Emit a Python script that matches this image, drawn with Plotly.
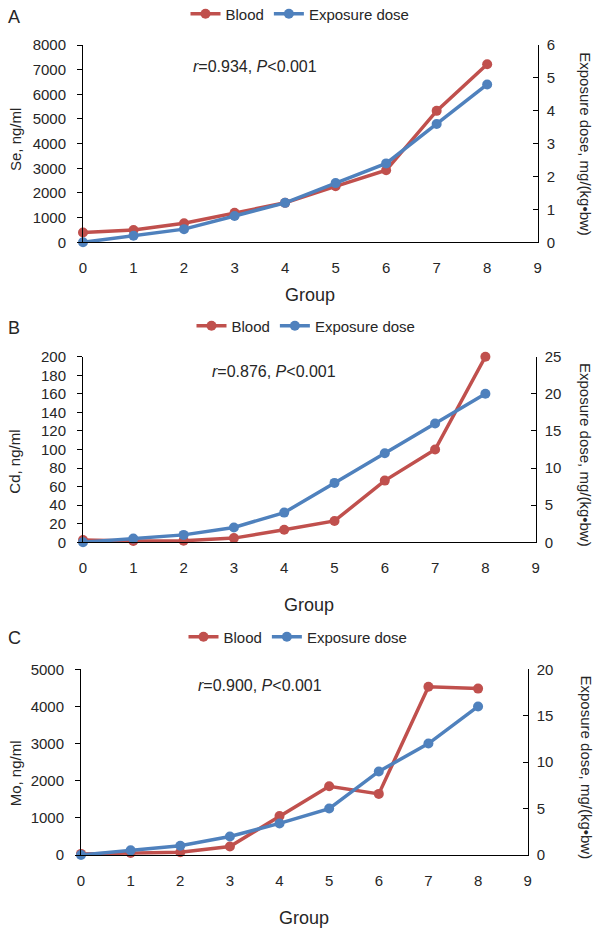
import plotly.graph_objects as go

groups = [0, 1, 2, 3, 4, 5, 6, 7, 8]

se_blood = [400, 500, 770, 1200, 1600, 2270, 2920, 5330, 7220]
se_dose = [0, 0.2, 0.4, 0.8, 1.2, 1.8, 2.4, 3.6, 4.8]

cd_blood = [2.5, 1.4, 1.8, 4.5, 13.5, 23, 66.5, 100, 200]
cd_dose = [0, 0.5, 1, 2, 4, 8, 12, 16, 20]

mo_blood = [30, 55, 75, 230, 1050, 1850, 1645, 4530, 4480]
mo_dose = [0, 0.5, 1, 2, 3.4, 5, 9, 12, 16]

panel_letters = ["A", "B", "C"]
left_titles = ["Se, ng/ml", "Cd, ng/ml", "Mo, ng/ml"]
right_title = "Exposure dose, mg/(kg\u2022bw)"
stats = ["<i>r</i>=0.934, <i>P</i>&lt;0.001",
         "<i>r</i>=0.876, <i>P</i>&lt;0.001",
         "<i>r</i>=0.900, <i>P</i>&lt;0.001"]
left_ranges = [[0, 8000], [0, 200], [0, 5000]]
left_dticks = [1000, 20, 1000]
right_ranges = [[0, 6], [0, 25], [0, 20]]
right_dticks = [1, 5, 5]
series_names = ["Blood", "Exposure dose"]

RED = "#C0504D"
BLUE = "#4F81BD"
TXT = "#262626"
FONT = "Liberation Sans, Arial, sans-serif"

W, H = 600, 934
def px(x):
    return x / W
def py(y):
    return 1 - y / H

# panel geometry in pixels: (x0, x1, ytop, ybottom)
geo = [(83, 537.7, 45, 242.3), (83, 535.7, 356.7, 542.3), (81, 527.7, 669.3, 855)]
legend_pos = [(300, 14), (306, 326), (298, 637)]
letter_y = [17, 328, 638]
stat_pos = [(255, 66.7), (274, 371.7), (260, 685)]
group_y = [295, 605, 918]
left_title_y = [140, 461.7, 773.3]
right_title_y = [144.2, 455, 767.5]

blood = [se_blood, cd_blood, mo_blood]
dose = [se_dose, cd_dose, mo_dose]

fig = go.Figure()
annotations = []
layout = dict(width=W, height=H, margin=dict(l=0, r=0, t=0, b=0, autoexpand=False),
              paper_bgcolor="white", plot_bgcolor="white",
              font=dict(family=FONT, color=TXT, size=15))

for i in range(3):
    xn = "x" if i == 0 else f"x{i+1}"
    yl = f"y{2*i+1}" if i > 0 else "y"
    yr = f"y{2*i+2}"
    lg = "legend" if i == 0 else f"legend{i+1}"
    fig.add_trace(go.Scatter(x=groups, y=blood[i], name=series_names[0], mode="lines+markers",
                             line=dict(color=RED, width=3.5), marker=dict(color=RED, size=10),
                             xaxis=xn, yaxis=yl, legend=lg, cliponaxis=False))
    fig.add_trace(go.Scatter(x=groups, y=dose[i], name=series_names[1], mode="lines+markers",
                             line=dict(color=BLUE, width=3.5), marker=dict(color=BLUE, size=10),
                             xaxis=xn, yaxis=yr, legend=lg, cliponaxis=False))
    x0, x1, yt, yb = geo[i]
    xkey = "xaxis" if i == 0 else f"xaxis{i+1}"
    ylkey = "yaxis" if i == 0 else f"yaxis{2*i+1}"
    yrkey = f"yaxis{2*i+2}"
    layout[xkey] = dict(domain=[px(x0), px(x1)], anchor=yl, range=[0, 9], dtick=1,
                        showgrid=False, zeroline=False, showline=True, linecolor="#000",
                        linewidth=1, ticks="outside", ticklen=12, tickcolor="rgba(0,0,0,0)",
                        tickfont=dict(size=15, color=TXT), automargin=False)
    layout[ylkey] = dict(domain=[py(yb), py(yt)], anchor=xn, range=left_ranges[i],
                         dtick=left_dticks[i], showgrid=False, zeroline=False, showline=True,
                         linecolor="#000", linewidth=1, ticks="outside", ticklen=5,
                         tickcolor="#000", ticklabelstandoff=8,
                         tickfont=dict(size=15, color=TXT), automargin=False)
    layout[yrkey] = dict(overlaying=yl, side="right", anchor=xn, range=right_ranges[i],
                         dtick=right_dticks[i], showgrid=False, zeroline=False, showline=True,
                         linecolor="#000", linewidth=1, ticks="inside", ticklen=5,
                         tickcolor="#000", ticklabelstandoff=5,
                         tickfont=dict(size=15, color=TXT), automargin=False)
    lx, ly = legend_pos[i]
    layout[lg] = dict(orientation="h", x=px(lx), y=py(ly), xanchor="center", yanchor="middle",
                      font=dict(size=15, color=TXT), bgcolor="rgba(0,0,0,0)", itemwidth=30)
    annotations += [
        dict(text=panel_letters[i], x=px(14), y=py(letter_y[i]), xref="paper", yref="paper",
             showarrow=False, font=dict(size=18, color=TXT), xanchor="center", yanchor="middle"),
        dict(text=stats[i], x=px(stat_pos[i][0]), y=py(stat_pos[i][1]), xref="paper", yref="paper",
             showarrow=False, font=dict(size=16, color=TXT), xanchor="center", yanchor="middle"),
        dict(text="Group", x=px((x0 + x1) / 2), y=py(group_y[i]), xref="paper", yref="paper",
             showarrow=False, font=dict(size=18, color=TXT), xanchor="center", yanchor="middle"),
        dict(text=left_titles[i], x=px(15), y=py(left_title_y[i]), xref="paper", yref="paper",
             showarrow=False, textangle=-90, font=dict(size=15, color=TXT),
             xanchor="center", yanchor="middle"),
        dict(text=right_title, x=px(586), y=py(right_title_y[i]), xref="paper", yref="paper",
             showarrow=False, textangle=90, font=dict(size=15, color=TXT),
             xanchor="center", yanchor="middle"),
    ]

layout["annotations"] = annotations
layout["showlegend"] = True
fig.update_layout(**layout)
fig.write_html("out.html", config={"displayModeBar": False},
               post_script="document.body.style.margin='0';document.body.style.overflow='hidden';")
